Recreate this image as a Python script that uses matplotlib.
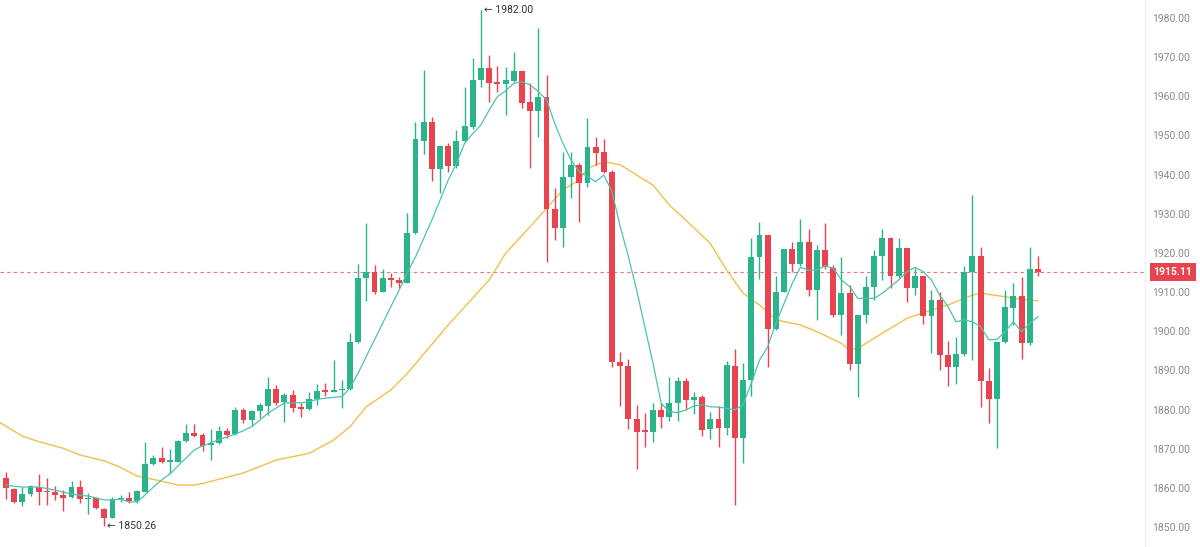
import matplotlib
matplotlib.use("Agg")
import matplotlib.pyplot as plt

# OHLC per candle
opens = [1862.4, 1859.7, 1856.3, 1858.3, 1860.1, 1859.3, 1858.9, 1858.2, 1857.6, 1860.1,
         1857.2, 1857.3, 1854.6, 1852.4, 1857.2, 1857.4, 1856.6, 1859.0, 1866.0, 1867.5,
         1866.7, 1866.7, 1871.9, 1874.1, 1873.5, 1870.9, 1871.4, 1874.6, 1873.7, 1879.9,
         1877.3, 1879.7, 1881.0, 1885.2, 1882.0, 1883.7, 1880.6, 1880.1, 1882.6, 1885.0,
         1884.5, 1885.0, 1885.2, 1897.3, 1913.5, 1915.0, 1910.1, 1913.5, 1913.1, 1912.4,
         1925.0, 1948.7, 1953.5, 1941.4, 1947.4, 1942.3, 1948.7, 1952.2, 1964.2, 1967.2,
         1963.6, 1963.1, 1964.0, 1966.5, 1958.6, 1956.3, 1959.8, 1931.1, 1926.3, 1939.5,
         1942.5, 1937.9, 1947.1, 1945.7, 1940.7, 1892.2, 1891.1, 1877.5, 1874.8, 1874.3,
         1880.0, 1878.0, 1881.6, 1887.4, 1882.4, 1883.3, 1874.9, 1877.6, 1875.4, 1891.1,
         1872.6, 1887.5, 1918.9, 1924.6, 1900.5, 1910.1, 1920.9, 1917.2, 1922.7, 1910.5,
         1920.7, 1916.1, 1904.1, 1909.8, 1891.5, 1904.1, 1911.4, 1919.1, 1923.7, 1914.1,
         1921.2, 1911.0, 1914.0, 1903.9, 1908.0, 1893.9, 1890.8, 1894.2, 1915.2, 1919.2,
         1887.4, 1882.6, 1897.2, 1906.0, 1909.1, 1896.9, 1915.8]
highs = [1864.1, 1859.9, 1860.3, 1860.7, 1863.5, 1862.5, 1860.5, 1859.4, 1861.7, 1862.0,
         1858.8, 1857.7, 1854.8, 1857.7, 1858.2, 1859.0, 1859.4, 1871.8, 1868.4, 1870.3,
         1869.9, 1872.2, 1876.2, 1876.2, 1873.9, 1874.9, 1875.8, 1875.4, 1880.7, 1880.3,
         1880.0, 1881.6, 1888.4, 1886.3, 1884.1, 1885.0, 1881.6, 1884.5, 1886.5, 1886.8,
         1892.6, 1887.5, 1899.5, 1917.1, 1927.7, 1916.9, 1915.8, 1914.8, 1913.9, 1930.2,
         1953.5, 1966.7, 1954.6, 1947.4, 1948.2, 1951.4, 1962.3, 1969.7, 1982.0, 1970.5,
         1967.7, 1967.6, 1971.2, 1966.5, 1963.3, 1977.4, 1965.4, 1936.5, 1945.9, 1945.9,
         1942.9, 1954.4, 1949.7, 1949.0, 1941.2, 1894.8, 1892.8, 1881.2, 1879.2, 1881.7,
         1881.7, 1888.2, 1888.2, 1888.0, 1884.5, 1883.7, 1879.4, 1880.9, 1892.5, 1895.5,
         1892.0, 1923.7, 1928.0, 1924.6, 1914.1, 1920.9, 1922.9, 1928.6, 1926.0, 1922.0,
         1927.7, 1916.9, 1918.9, 1911.8, 1904.1, 1914.1, 1920.7, 1926.0, 1924.1, 1923.7,
         1921.2, 1916.1, 1914.0, 1910.5, 1910.1, 1897.6, 1898.6, 1916.7, 1934.8, 1921.6,
         1890.5, 1897.2, 1910.5, 1912.2, 1913.9, 1921.6, 1919.2]
lows = [1857.1, 1856.0, 1855.4, 1857.9, 1855.6, 1855.6, 1856.9, 1854.1, 1857.3, 1856.0,
        1853.3, 1854.5, 1850.26, 1852.2, 1856.5, 1856.2, 1856.2, 1858.9, 1865.8, 1866.3,
        1863.5, 1866.5, 1871.8, 1873.0, 1869.5, 1867.1, 1871.2, 1872.6, 1873.5, 1876.6,
        1875.8, 1877.8, 1878.6, 1881.1, 1876.9, 1879.4, 1878.2, 1879.9, 1881.1, 1883.4,
        1884.4, 1880.3, 1885.0, 1896.9, 1907.8, 1909.5, 1909.9, 1911.2, 1911.0, 1912.2,
        1924.8, 1945.3, 1938.4, 1935.2, 1940.7, 1941.6, 1948.3, 1951.6, 1962.3, 1958.6,
        1961.2, 1955.2, 1963.7, 1956.9, 1941.6, 1949.7, 1917.8, 1923.3, 1921.4, 1934.0,
        1928.0, 1936.8, 1942.5, 1940.5, 1890.8, 1880.9, 1874.9, 1864.7, 1870.3, 1871.8,
        1875.2, 1877.1, 1877.1, 1879.9, 1878.9, 1873.2, 1872.4, 1870.5, 1873.5, 1855.6,
        1866.3, 1883.4, 1913.3, 1890.8, 1900.3, 1910.0, 1915.2, 1916.7, 1909.0, 1902.9,
        1915.8, 1903.7, 1899.0, 1890.1, 1883.1, 1902.2, 1908.0, 1913.1, 1911.0, 1913.5,
        1907.5, 1909.3, 1901.8, 1894.4, 1890.1, 1886.0, 1886.5, 1893.7, 1892.6, 1880.7,
        1876.5, 1870.1, 1897.0, 1901.6, 1892.8, 1896.5, 1914.1]
closes = [1859.9, 1856.3, 1858.3, 1860.5, 1859.0, 1858.9, 1858.2, 1857.5, 1860.1, 1857.1,
          1857.4, 1854.8, 1852.4, 1857.1, 1857.4, 1856.7, 1859.2, 1866.0, 1867.7, 1866.5,
          1867.0, 1872.0, 1874.1, 1873.3, 1870.7, 1871.5, 1874.6, 1873.5, 1879.9, 1877.3,
          1879.7, 1881.2, 1885.2, 1881.7, 1883.7, 1880.5, 1880.2, 1882.6, 1884.8, 1884.4,
          1885.0, 1885.3, 1897.3, 1913.5, 1915.0, 1910.1, 1913.5, 1913.1, 1912.4, 1925.0,
          1949.0, 1953.5, 1941.4, 1947.4, 1942.3, 1948.7, 1952.4, 1964.2, 1967.2, 1963.3,
          1963.2, 1964.2, 1966.5, 1958.4, 1956.3, 1959.8, 1931.1, 1926.3, 1939.5, 1942.5,
          1937.9, 1947.1, 1945.6, 1940.7, 1892.2, 1891.1, 1877.5, 1874.3, 1874.3, 1880.0,
          1878.0, 1881.6, 1887.4, 1882.4, 1883.3, 1874.8, 1877.6, 1875.2, 1891.3, 1872.6,
          1887.5, 1919.0, 1924.6, 1900.5, 1910.1, 1920.9, 1917.2, 1922.7, 1910.5, 1920.7,
          1916.5, 1904.1, 1909.8, 1891.5, 1904.1, 1911.4, 1919.2, 1923.7, 1914.1, 1921.2,
          1911.0, 1914.1, 1903.9, 1908.0, 1893.9, 1890.8, 1894.2, 1915.2, 1919.2, 1887.4,
          1882.6, 1897.2, 1906.1, 1909.1, 1896.9, 1915.8, 1915.11]

# fast moving average (teal), one value per candle
ma_fast = [1860.7, 1860.4, 1860.2, 1860.2, 1860.2, 1859.8, 1859.4, 1858.9, 1858.4, 1858.1,
           1857.9, 1857.4, 1856.9, 1856.9, 1857.1, 1856.4, 1856.4, 1858.2, 1860.2, 1862.0,
           1863.5, 1865.6, 1867.6, 1869.7, 1870.7, 1871.5, 1872.3, 1873.0, 1873.7, 1874.6,
           1875.6, 1877.3, 1879.1, 1880.4, 1881.7, 1881.7, 1881.7, 1882.0, 1882.6, 1882.9,
           1883.1, 1883.3, 1885.5, 1889.3, 1893.6, 1897.8, 1902.1, 1906.3, 1910.5, 1914.9,
           1919.0, 1923.7, 1928.4, 1933.5, 1938.6, 1942.9, 1948.0, 1950.5, 1952.7, 1956.5,
           1959.9, 1961.4, 1963.3, 1963.7, 1962.9, 1961.2, 1959.1, 1953.1, 1948.0, 1943.7,
           1940.7, 1939.5, 1938.2, 1939.9, 1935.6, 1926.7, 1919.0, 1910.5, 1901.1, 1891.8,
           1881.6, 1879.4, 1879.2, 1879.9, 1880.9, 1881.2, 1880.7, 1880.6, 1880.3, 1879.9,
           1881.2, 1886.7, 1892.6, 1896.0, 1902.0, 1907.1, 1912.2, 1916.3, 1915.6, 1915.6,
           1916.7, 1916.1, 1913.1, 1911.4, 1908.4, 1908.4, 1908.4, 1909.7, 1911.4, 1913.1,
           1915.2, 1916.3, 1915.2, 1913.1, 1909.2, 1906.3, 1902.4, 1902.9, 1902.4, 1901.2,
           1897.8, 1897.9, 1899.9, 1902.4, 1899.9, 1902.0, 1903.7]

# slow moving average (yellow), sampled at candle indices
ma_slow_idx = [-1, 2, 4, 7, 9, 12, 14, 16, 19, 21, 23, 24, 29, 33, 37, 40, 42, 44, 47, 49,
               54, 59, 61, 64, 66, 68, 70, 71, 73, 75, 79, 81, 83, 86, 88, 90, 92, 94, 97,
               99, 102, 103, 104, 107, 109, 110, 113, 115, 118, 119, 122, 124, 126]
ma_slow = [1877.0, 1873.2, 1871.8, 1870.1, 1868.4, 1866.9, 1865.2, 1863.0, 1861.7, 1860.7,
           1860.7, 1861.1, 1863.8, 1867.1, 1868.8, 1872.2, 1875.6, 1880.7, 1885.0, 1889.2,
           1901.6, 1913.1, 1919.9, 1926.7, 1931.4, 1936.1, 1938.6, 1941.6, 1943.3, 1942.5,
           1937.3, 1932.2, 1928.4, 1922.4, 1915.6, 1909.7, 1906.7, 1902.9, 1901.6, 1899.9,
           1896.9, 1895.2, 1895.6, 1899.5, 1902.0, 1903.3, 1905.4, 1906.7, 1909.2, 1909.7,
           1908.8, 1908.1, 1907.8]

price_ticks = [1850, 1860, 1870, 1880, 1890, 1900, 1910, 1920, 1930, 1940, 1950, 1960, 1970, 1980]
last_price = 1915.11
high_label = "1982.00"
low_label = "1850.26"

green = "#2bb38a"
red = "#e8434f"
fonts = ["Roboto", "DejaVu Sans"]

fig = plt.figure(figsize=(12, 5.47), dpi=100)
ax = fig.add_axes([0, 0, 1145 / 1200, 1])

x = list(range(len(opens)))
up = [c >= o for o, c in zip(opens, closes)]
colors = [green if u else red for u in up]
bottoms = [min(o, c) for o, c in zip(opens, closes)]
heights = [max(abs(c - o), 0.3) for o, c in zip(opens, closes)]

ax.vlines(x, lows, highs, colors=colors, linewidth=1, zorder=2)
ax.bar(x, heights, bottom=bottoms, width=0.72, color=colors, linewidth=0, zorder=3)

ax.plot(x, ma_fast, color="#4cc3b0", linewidth=0.9, zorder=4)
ax.plot(ma_slow_idx, ma_slow, color="#f2c04a", linewidth=1.0, zorder=1)

# last price line and tag
ax.axhline(last_price, color="#e8707a", linestyle=(0, (3, 3)), linewidth=0.8, zorder=0)
ax.annotate(f"{last_price:.2f}", xy=(1.0, last_price), xycoords=("axes fraction", "data"),
            xytext=(6, 0), textcoords="offset points", ha="left", va="center",
            fontsize=7.5, fontweight="bold", color="white", family=fonts,
            bbox=dict(boxstyle="square,pad=0.35", fc=red, ec="none"), annotation_clip=False)

# high / low markers
hi_i = highs.index(max(highs))
lo_i = lows.index(min(lows))
ax.annotate("\u2190 " + high_label, xy=(hi_i, max(highs)), xytext=(2, 0),
            textcoords="offset points", ha="left", va="center", fontsize=7.5,
            color="#333333", family=fonts)
ax.annotate("\u2190 " + low_label, xy=(lo_i, min(lows)), xytext=(2, 0),
            textcoords="offset points", ha="left", va="center", fontsize=7.5,
            color="#333333", family=fonts)

ax.set_xlim(-0.73, 139.07)
ax.set_ylim(1844.88, 1984.6)
ax.set_xticks([])
ax.yaxis.tick_right()
ax.set_yticks(price_ticks)
ax.set_yticklabels([f"{t:.2f}" for t in price_ticks], fontsize=7.5, color="#8a8a8a",
                   family=fonts)
ax.tick_params(axis="y", length=0, pad=5)
for s in ["top", "left", "bottom"]:
    ax.spines[s].set_visible(False)
ax.spines["right"].set_color("#eeeeee")
ax.spines["right"].set_linewidth(0.8)

fig.savefig("out.png", dpi=100, facecolor="white")
